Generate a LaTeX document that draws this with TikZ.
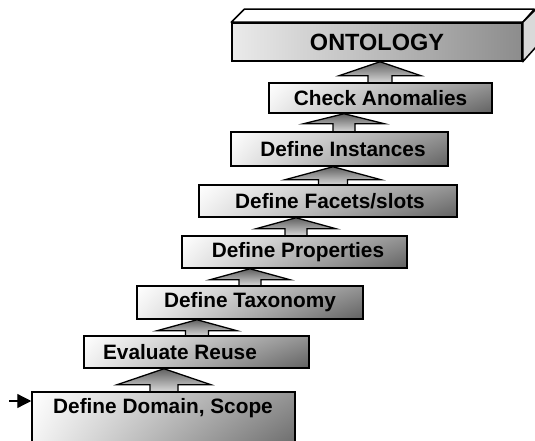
\documentclass[tikz,border=0pt]{standalone}
\usepackage{fontspec}
\setmainfont{Liberation Sans}
\usetikzlibrary{arrows.meta,shadings,backgrounds,calc}
\newcommand\blockarrow[6]{% #1 lower, #2 upper, #3 x, #4 head len, #5 head half, #6 shaft half
  \path[blk] let \p1=(#1.north), \p2=(#2.south) in
    (#3pt,\y2) -- (#3pt+#5pt,\y2-#4pt) -- (#3pt+#6pt,\y2-#4pt) -- (#3pt+#6pt,\y1-2pt)
    -- (#3pt-#6pt,\y1-2pt) -- (#3pt-#6pt,\y2-#4pt) -- (#3pt-#5pt,\y2-#4pt) -- cycle;}
\begin{document}
\begin{tikzpicture}[x=1pt,y=-1pt,
  box/.style={draw=black,line width=1.5pt,inner sep=0pt,shade,
    upper left=white,upper right=black!42,lower left=black!6,lower right=black!62,
    font=\fontsize{20.8}{24}\selectfont\bfseries},
  txt/.style={inner sep=0pt,font=\fontsize{20.8}{24}\selectfont\bfseries},
  blk/.style={draw=black,line width=1.3pt,line join=miter,top color=black!62,bottom color=black!12}]
\useasboundingbox (0,0) rectangle (535,441);
\clip (0,0) rectangle (535,441);
% steps
\node[box,minimum width=263pt,minimum height=68pt] (dom) at (163.5,426) {};
\node[txt] (domtxt) at (163,408) {Define Domain, Scope};
\node[box,minimum width=225pt,minimum height=32pt] (ev) at (196.5,352) {Evaluate Reuse\hspace*{33pt}};
\node[box,minimum width=226pt,minimum height=33pt] (tax) at (250,302.5) {Define Taxonomy};
\node[box,minimum width=225pt,minimum height=32pt] (prop) at (294.5,252) {\hspace*{7pt}Define Properties};
\node[box,minimum width=258pt,minimum height=32pt] (fac) at (328,201) {\hspace*{4pt}Define Facets/slots};
\node[box,minimum width=217pt,minimum height=34pt] (inst) at (339.5,149) {\hspace*{7pt}Define Instances};
\node[box,minimum width=223pt,minimum height=30pt] (chk) at (380.5,98) {Check Anomalies};
% ontology block
\node[draw=black,line width=1.5pt,inner sep=0pt,minimum width=290pt,minimum height=38pt,
  left color=black!8,right color=black!45,font=\fontsize{23.5}{26}\selectfont\bfseries] (ont) at (377,42) {ONTOLOGY};
\draw[line width=1.5pt,line join=round,fill=white] (ont.north west) -- ++(13,-13) -- ++(290,0) -- (ont.north east) -- cycle;
\draw[line width=1.5pt,line join=round,fill=black!15] (ont.north east) -- ++(13,-13) -- ++(0,38) -- (ont.south east) -- cycle;
% entry arrow
\coordinate (start) at (9,401);
\draw[line width=1.3pt,-{Triangle[length=14pt,width=14pt]}] (start) -- (dom.west |- start);
% block arrows
\begin{pgfonlayer}{background}
\blockarrow{dom}{ev}{164}{16}{47}{14}
\blockarrow{ev}{tax}{197}{11}{40}{11.5}
\blockarrow{tax}{prop}{250}{11}{40}{11}
\blockarrow{prop}{fac}{296}{11}{40}{11}
\blockarrow{fac}{inst}{333}{13}{48}{14.5}
\blockarrow{inst}{chk}{344}{10}{40.5}{11}
\blockarrow{chk}{ont}{380}{14}{41}{12}
\end{pgfonlayer}
\end{tikzpicture}
\end{document}
